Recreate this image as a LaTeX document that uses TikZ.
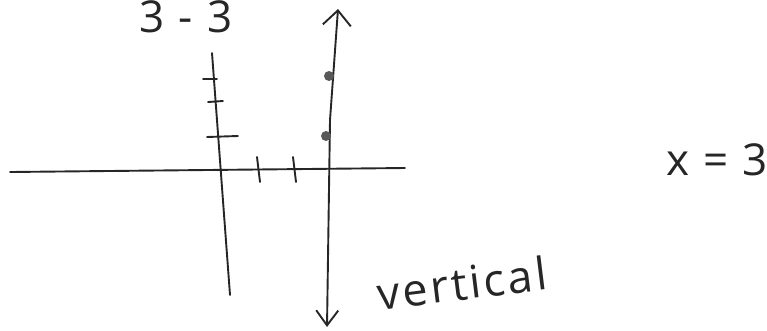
\documentclass[tikz,border=0pt]{standalone}
\usepackage{fontspec}
\setmainfont{Open Sans}
\usetikzlibrary{arrows.meta}
\begin{document}
\begin{tikzpicture}[x=1pt,y=-1pt,line width=1.9pt,color=black!85,line cap=round,
  hand/.style={font=\fontsize{44}{48}\selectfont\addfontfeature{LetterSpace=6},inner sep=0pt},
  dot/.style={circle,fill=black!65,inner sep=0pt,minimum size=10pt}]
  \useasboundingbox (0,0) rectangle (767,330);
  \coordinate (xleft) at (10,172);
  \coordinate (xright) at (405,168);
  \coordinate (ytop) at (212,53);
  \coordinate (ybot) at (230,295);
  \coordinate (vtop) at (338,9);
  \coordinate (vmid) at (330,120);
  \coordinate (vbot) at (327,327);
  \draw (xleft) -- (xright);
  \draw (ytop) -- (ybot);
  \draw[{Straight Barb[length=15pt,width=28pt]}-{Straight Barb[length=15pt,width=22pt]}] (vtop) -- (vmid) -- (vbot);
  \foreach \xa/\ya/\xb/\yb in {203/79/217/79,208/102/223/101,207/137/238/136} {
    \draw (\xa,\ya) -- (\xb,\yb);
  }
  \foreach \xa/\xb in {257/260,293/296} {
    \draw (\xa,157) -- (\xb,182);
  }
  \node[dot] (dotup) at (329,76) {};
  \node[dot] (dotlow) at (326,136) {};
  \node[hand] (title) at (186,17) {3 - 3};
  \node[hand] (eqn) at (717,160) {x = 3};
  \node[hand,rotate=7,font=\fontsize{45}{48}\selectfont\addfontfeature{LetterSpace=6}] (vlabel) at (462,283) {vertical};
\end{tikzpicture}
\end{document}
